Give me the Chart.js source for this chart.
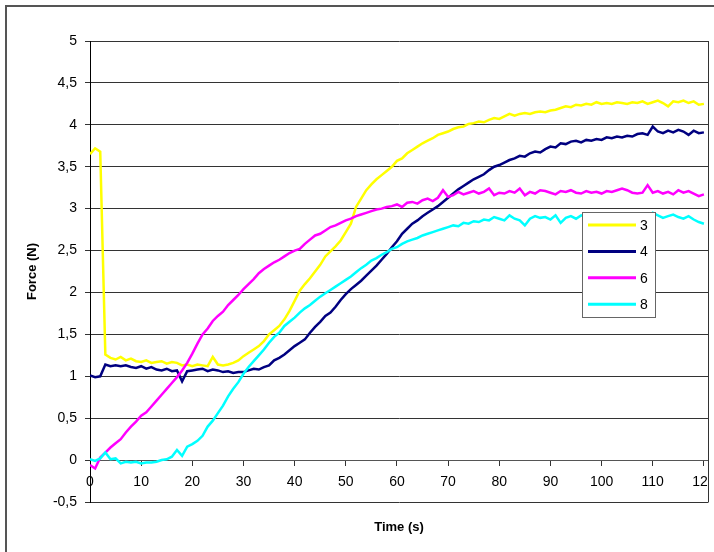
<!DOCTYPE html>
<html>
<head>
<meta charset="utf-8">
<script src="https://cdn.jsdelivr.net/npm/chart.js@4.4.1/dist/chart.umd.min.js"></script>
<style>
  html, body { margin: 0; padding: 0; background: #fff; }
  canvas { display: block; }
</style>
</head>
<body>
<canvas id="c" width="714" height="552"></canvas>
<script>
// ---- data ----
const timeSeconds = [0,1,2,3,4,5,6,7,8,9,10,11,12,13,14,15,16,17,18,19,20,21,22,23,24,25,26,27,28,29,30,31,32,33,34,35,36,37,38,39,40,41,42,43,44,45,46,47,48,49,50,51,52,53,54,55,56,57,58,59,60,61,62,63,64,65,66,67,68,69,70,71,72,73,74,75,76,77,78,79,80,81,82,83,84,85,86,87,88,89,90,91,92,93,94,95,96,97,98,99,100,101,102,103,104,105,106,107,108,109,110,111,112,113,114,115,116,117,118,119,120];

const seriesLabels = ["3", "4", "6", "8"];

const force3 = [3.65,3.72,3.68,1.26,1.22,1.20,1.23,1.19,1.21,1.18,
 1.17,1.19,1.16,1.17,1.18,1.15,1.17,1.16,1.13,1.14,
 1.12,1.14,1.13,1.12,1.23,1.14,1.13,1.14,1.16,1.19,
 1.24,1.28,1.32,1.36,1.42,1.50,1.55,1.60,1.68,1.78,
 1.90,2.02,2.10,2.17,2.25,2.33,2.43,2.49,2.55,2.62,
 2.72,2.82,3.02,3.12,3.22,3.29,3.35,3.40,3.45,3.50,
 3.57,3.60,3.66,3.70,3.74,3.78,3.81,3.84,3.88,3.90,
 3.92,3.95,3.97,3.98,4.01,4.02,4.04,4.03,4.06,4.08,
 4.07,4.10,4.13,4.11,4.13,4.14,4.13,4.15,4.16,4.15,
 4.17,4.18,4.20,4.22,4.21,4.24,4.23,4.25,4.24,4.27,
 4.25,4.26,4.25,4.27,4.26,4.25,4.27,4.26,4.28,4.25,
 4.27,4.29,4.26,4.22,4.28,4.27,4.29,4.26,4.28,4.24,
 4.25];

const force4 = [1.01,0.99,1.00,1.14,1.12,1.13,1.12,1.13,1.11,1.10,
 1.12,1.09,1.11,1.08,1.07,1.09,1.06,1.07,0.94,1.06,
 1.07,1.08,1.09,1.06,1.08,1.07,1.05,1.06,1.04,1.05,
 1.05,1.07,1.09,1.08,1.11,1.13,1.19,1.22,1.26,1.31,
 1.36,1.40,1.44,1.52,1.59,1.65,1.72,1.76,1.83,1.91,
 1.98,2.04,2.09,2.14,2.20,2.26,2.32,2.39,2.46,2.54,
 2.61,2.70,2.76,2.82,2.86,2.91,2.95,2.99,3.03,3.08,
 3.13,3.18,3.23,3.27,3.31,3.35,3.38,3.41,3.46,3.50,
 3.52,3.55,3.58,3.60,3.63,3.62,3.66,3.68,3.67,3.71,
 3.74,3.73,3.78,3.77,3.80,3.81,3.79,3.82,3.81,3.83,
 3.82,3.85,3.84,3.86,3.85,3.87,3.86,3.89,3.90,3.88,
 3.98,3.92,3.90,3.93,3.91,3.94,3.92,3.88,3.93,3.90,
 3.91];

const force6 = [-0.06,-0.10,0.03,0.09,0.15,0.20,0.25,0.33,0.40,0.46,
 0.53,0.57,0.64,0.71,0.78,0.85,0.92,0.99,1.07,1.16,
 1.27,1.39,1.50,1.57,1.66,1.72,1.77,1.85,1.91,1.97,
 2.04,2.10,2.16,2.23,2.28,2.32,2.36,2.39,2.43,2.47,
 2.50,2.52,2.58,2.63,2.68,2.70,2.74,2.78,2.80,2.83,
 2.86,2.88,2.91,2.93,2.95,2.97,2.99,3.00,3.02,3.03,
 3.05,3.02,3.07,3.08,3.06,3.10,3.12,3.09,3.13,3.22,
 3.14,3.16,3.20,3.17,3.19,3.21,3.18,3.20,3.24,3.16,
 3.19,3.18,3.21,3.19,3.24,3.16,3.20,3.18,3.22,3.21,
 3.19,3.17,3.21,3.20,3.22,3.19,3.18,3.21,3.19,3.20,
 3.18,3.21,3.20,3.22,3.24,3.22,3.19,3.18,3.19,3.28,
 3.19,3.21,3.18,3.20,3.17,3.22,3.19,3.21,3.18,3.15,
 3.17];

const force8 = [0.01,-0.01,0.02,0.09,0.01,0.02,-0.04,-0.02,-0.03,-0.02,
 -0.04,-0.03,-0.03,-0.02,0.00,0.01,0.04,0.12,0.05,0.16,
 0.19,0.23,0.29,0.40,0.47,0.56,0.65,0.76,0.85,0.93,
 1.03,1.11,1.18,1.25,1.32,1.40,1.47,1.52,1.60,1.65,
 1.70,1.76,1.81,1.85,1.90,1.95,1.99,2.03,2.07,2.11,
 2.15,2.19,2.24,2.29,2.33,2.38,2.41,2.45,2.48,2.52,
 2.54,2.58,2.61,2.63,2.65,2.68,2.70,2.72,2.74,2.76,
 2.78,2.80,2.79,2.83,2.82,2.85,2.84,2.87,2.86,2.90,
 2.88,2.86,2.92,2.88,2.86,2.80,2.88,2.91,2.89,2.90,
 2.87,2.92,2.83,2.89,2.91,2.88,2.92,2.90,2.93,2.89,
 2.91,2.88,2.92,2.90,2.93,2.91,2.89,2.93,2.92,2.90,
 2.95,2.92,2.89,2.91,2.93,2.90,2.88,2.91,2.87,2.84,
 2.82];

const xTickStep = 10;
const yTickStep = 0.5;

// ---- styles ----
const seriesColors = ["#FFFF00", "#000080", "#FF00FF", "#00FFFF"];
const allSeries = [force3, force4, force6, force8];
const FONT = "'Liberation Sans', Arial, sans-serif";

const datasets = allSeries.map((vals, i) => ({
  label: seriesLabels[i],
  data: vals.map((v, k) => ({ x: timeSeconds[k], y: v })),
  borderColor: seriesColors[i],
  backgroundColor: seriesColors[i],
  borderWidth: 2.5,
  pointRadius: 0,
  tension: 0,
  fill: false,
  order: allSeries.length - 1 - i
}));

const noSidePadding = s => { s.paddingLeft = 0; s.paddingRight = 0; };

const framePlugin = {
  id: 'frame',
  beforeDraw(chart) {
    const ctx = chart.ctx;
    ctx.save();
    ctx.fillStyle = '#fff';
    ctx.fillRect(0, 0, chart.width, chart.height);
    ctx.strokeStyle = '#555';
    ctx.lineWidth = 2;
    ctx.beginPath();
    ctx.moveTo(6, chart.height + 2);
    ctx.lineTo(6, 6);
    ctx.lineTo(chart.width + 2, 6);
    ctx.stroke();
    ctx.restore();
  },
  afterDraw(chart) {
    const ctx = chart.ctx;
    const a = chart.chartArea;
    const y0 = chart.scales.y.getPixelForValue(0);
    ctx.save();
    // clip the last x label at the plot border
    ctx.fillStyle = '#fff';
    ctx.fillRect(a.right, y0 + 6, chart.width - a.right, a.bottom - y0 - 7);
    // right plot border
    ctx.strokeStyle = '#333';
    ctx.lineWidth = 1;
    ctx.beginPath();
    ctx.moveTo(a.right + 0.5, a.top);
    ctx.lineTo(a.right + 0.5, a.bottom + 0.5);
    ctx.stroke();
    // legend
    const lx = 582.5, ly = 212.5, lw = 73, lh = 105;
    ctx.fillStyle = '#fff';
    ctx.fillRect(lx, ly, lw, lh);
    ctx.strokeStyle = '#666';
    ctx.lineWidth = 1;
    ctx.strokeRect(lx, ly, lw, lh);
    ctx.font = '14px ' + FONT;
    ctx.textBaseline = 'middle';
    ctx.textAlign = 'left';
    chart.data.datasets.forEach((ds, i) => {
      const yy = 225 + i * 26.4;
      ctx.strokeStyle = ds.borderColor;
      ctx.lineWidth = 3;
      ctx.beginPath();
      ctx.moveTo(588, yy);
      ctx.lineTo(636, yy);
      ctx.stroke();
      ctx.fillStyle = '#000';
      ctx.fillText(ds.label, 640, yy + 1);
    });
    ctx.restore();
  }
};

new Chart(document.getElementById('c'), {
  type: 'line',
  data: { datasets },
  options: {
    responsive: false,
    animation: false,
    devicePixelRatio: 1,
    layout: { padding: { top: 41, right: 6, left: 0, bottom: 0 } },
    plugins: { legend: { display: false }, tooltip: { enabled: false } },
    scales: {
      x: {
        type: 'linear',
        position: { y: 0 },
        min: 0,
        max: 120.8,
        grid: { drawOnChartArea: false, drawTicks: true, tickLength: 5, color: '#333' },
        border: { display: true, color: '#555', width: 1 },
        ticks: {
          stepSize: xTickStep,
          includeBounds: false,
          autoSkip: false,
          maxRotation: 0,
          padding: 9,
          color: '#000',
          font: { family: FONT, size: 14 },
          callback: v => String(v)
        },
        afterFit: noSidePadding
      },
      x2: {
        type: 'linear',
        position: 'bottom',
        min: 0,
        max: 120.8,
        grid: { display: false },
        border: { display: false },
        ticks: { display: false },
        title: {
          display: true,
          text: 'Time (s)',
          color: '#000',
          font: { family: FONT, size: 13, weight: 'bold' },
          padding: { top: 0, bottom: 17 }
        },
        afterFit: s => { s.height = 50; s.paddingLeft = 0; s.paddingRight = 0; }
      },
      y: {
        type: 'linear',
        position: 'left',
        min: -0.5,
        max: 5,
        grid: { color: '#333', lineWidth: 1, tickLength: 5, drawTicks: true },
        border: { display: true, color: '#000', width: 1 },
        ticks: {
          stepSize: yTickStep,
          padding: 8,
          color: '#000',
          font: { family: FONT, size: 14 },
          callback: v => String(Math.round(v * 10) / 10).replace('.', ',')
        },
        title: {
          display: true,
          text: 'Force (N)',
          color: '#000',
          font: { family: FONT, size: 13, weight: 'bold' },
          padding: { top: 25, bottom: 0 }
        },
        afterFit: s => { s.width = 90; }
      }
    }
  },
  plugins: [framePlugin]
});
</script>
</body>
</html>
